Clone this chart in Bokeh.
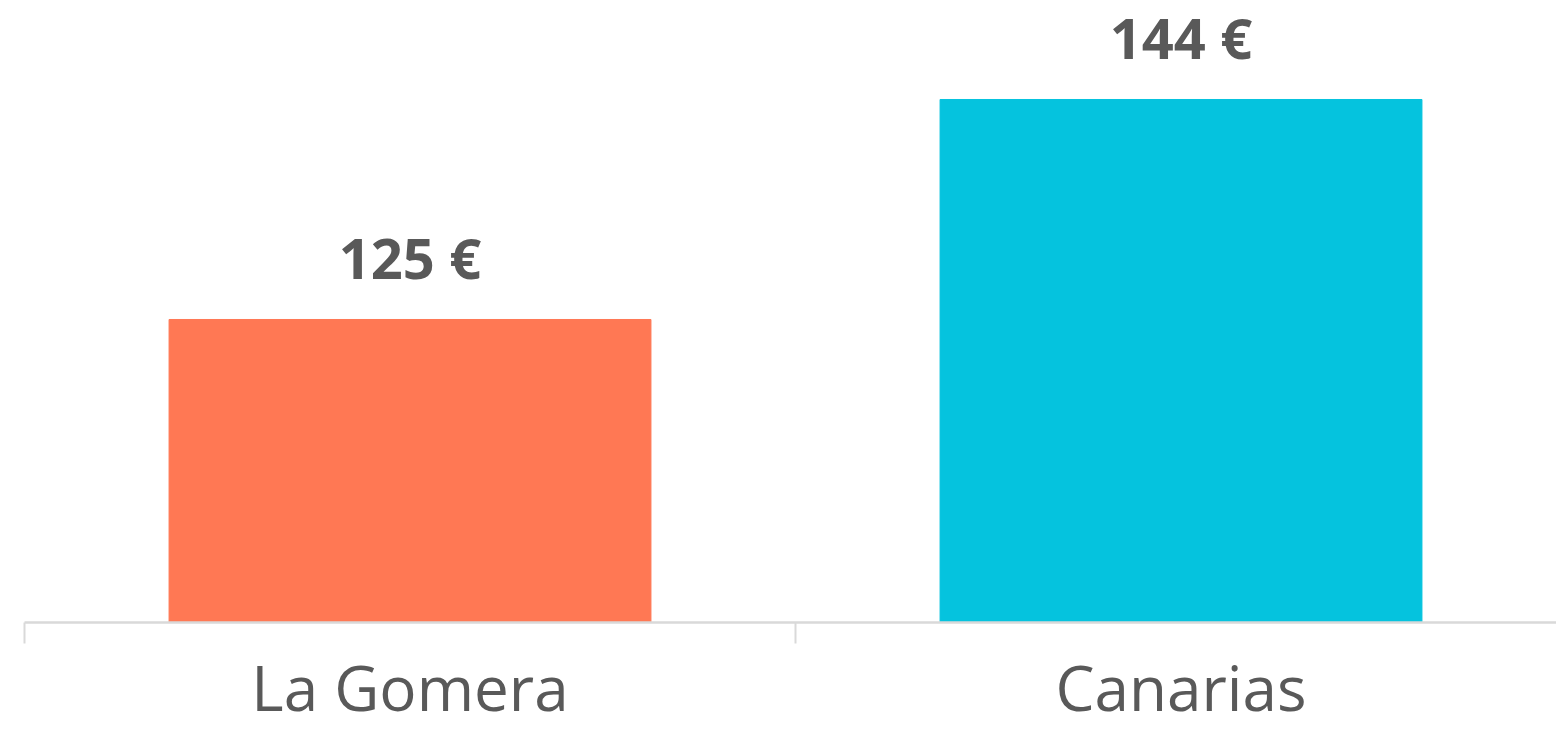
from bokeh.plotting import figure
from bokeh.models import ColumnDataSource, FixedTicker, Range1d
from bokeh.core.properties import value
from bokeh.embed import file_html
from bokeh.resources import INLINE

categories = ["La Gomera", "Canarias"]
prices = [125, 144]
colors = ["#FF7854", "#05C3DE"]

xs = [i + 0.5 for i in range(len(categories))]
labels = [f"{v} €" for v in prices]
src = ColumnDataSource(dict(x=xs, top=prices, color=colors, label=labels))

p = figure(width=1556, height=731, output_backend="svg", toolbar_location=None,
           x_range=Range1d(0, 1532 / 771), y_range=Range1d(98.83, 152.55),
           min_border_left=24, min_border_right=0, min_border_top=0, min_border_bottom=109)
p.outline_line_color = None
p.background_fill_color = "white"
p.border_fill_color = "white"
p.xgrid.visible = False
p.ygrid.visible = False
p.yaxis.visible = False

p.vbar(x="x", top="top", bottom=0, width=0.625, color="color", source=src)
p.text(x="x", y="top", text="label", source=src, text_align="center",
       text_baseline="alphabetic", y_offset=-62, text_color="#595959",
       text_font=value("Open Sans"), text_font_style="bold", text_font_size="56px")

ax = p.xaxis[0]
ax.ticker = FixedTicker(ticks=xs, minor_ticks=list(range(len(categories) + 1)))
ax.major_label_overrides = {x: c for x, c in zip(xs, categories)}
ax.major_tick_out = 0
ax.major_tick_in = 0
ax.major_tick_line_color = None
ax.minor_tick_out = 21
ax.minor_tick_in = 0
ax.minor_tick_line_color = "#D9D9D9"
ax.minor_tick_line_width = 2
ax.axis_line_color = "#D9D9D9"
ax.axis_line_width = 2.5
ax.major_label_text_font = "Open Sans"
ax.major_label_text_font_size = "62px"
ax.major_label_text_color = "#595959"
ax.major_label_standoff = 1

open("out.html", "w").write(file_html(p, INLINE))
